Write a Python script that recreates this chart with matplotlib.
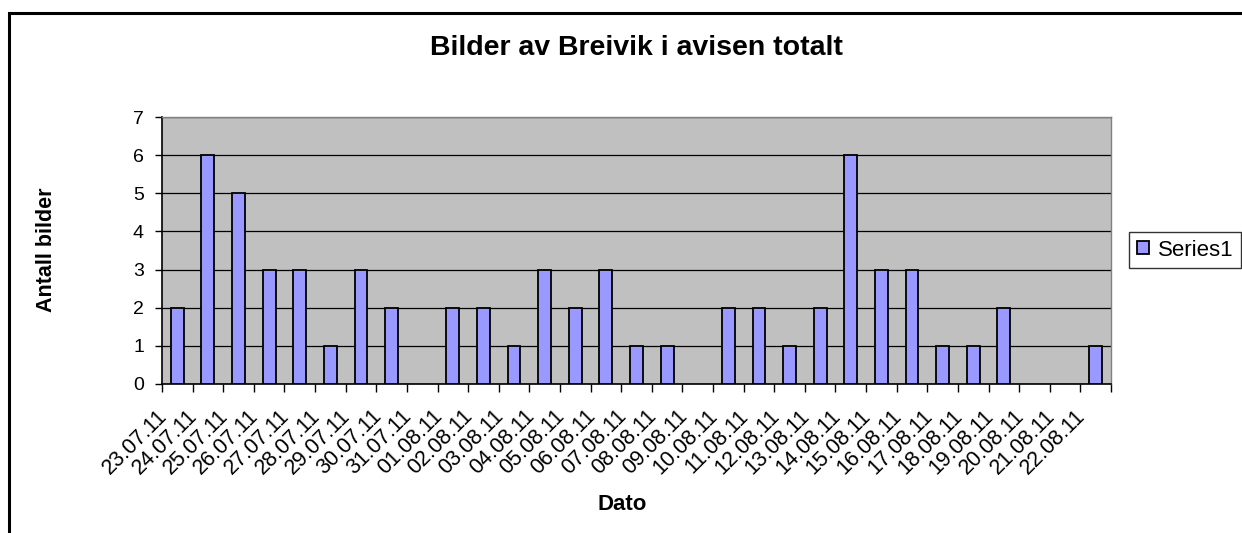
import matplotlib
matplotlib.use("Agg")
import matplotlib.pyplot as plt
from matplotlib.patches import Rectangle
import matplotlib.transforms as mtransforms
import numpy as np

dates = ["23.07.11", "24.07.11", "25.07.11", "26.07.11", "27.07.11", "28.07.11",
         "29.07.11", "30.07.11", "31.07.11", "01.08.11", "02.08.11", "03.08.11",
         "04.08.11", "05.08.11", "06.08.11", "07.08.11", "08.08.11", "09.08.11",
         "10.08.11", "11.08.11", "12.08.11", "13.08.11", "14.08.11", "15.08.11",
         "16.08.11", "17.08.11", "18.08.11", "19.08.11", "20.08.11", "21.08.11",
         "22.08.11"]
values = [2, 6, 5, 3, 3, 1, 3, 2, 0, 2, 2, 1, 3, 2, 3, 1, 1, 0,
          2, 2, 1, 2, 6, 3, 3, 1, 1, 2, 0, 0, 1]
series_name = "Series1"
title = "Bilder av Breivik i avisen totalt"
xlabel = "Dato"
ylabel = "Antall bilder"

plt.rcParams['font.family'] = ['Liberation Sans', 'DejaVu Sans']

W, H = 1242, 533
fig = plt.figure(figsize=(W / 100, H / 100), dpi=100)

# outer chart border
fig.patches.append(Rectangle((9 / W, -0.05), 1.2, 1 - 13 / H + 0.05,
                             transform=fig.transFigure, fill=False,
                             edgecolor='black', linewidth=2.2, zorder=0))

left, right, top, bottom = 162, 1111, 117, 384
ax = fig.add_axes([left / W, 1 - bottom / H, (right - left) / W, (bottom - top) / H])
ax.set_facecolor('#C0C0C0')

x = np.arange(len(dates))
bars = ax.bar(x, values, width=0.42, color='#9999FF', edgecolor='black',
              linewidth=1.3, zorder=3, label=series_name)
for b, v in zip(bars, values):
    if v == 0:
        b.set_visible(False)

ax.set_xlim(-0.5, len(dates) - 0.5)
ax.set_ylim(0, 7)
ax.set_yticks(range(0, 8))
ax.yaxis.grid(True, color='black', linewidth=0.9, zorder=1)
ax.set_axisbelow(True)

# category boundary ticks
ax.set_xticks(np.arange(-0.5, len(dates) + 0.5, 1.0))
ax.set_xticklabels([])
ax.tick_params(axis='x', direction='out', length=6, width=1, colors='black')
ax.tick_params(axis='y', direction='out', length=5, width=1, labelsize=14, pad=8)

for s in ['top', 'right']:
    ax.spines[s].set_color('#808080')
    ax.spines[s].set_linewidth(1.0)
for s in ['left', 'bottom']:
    ax.spines[s].set_color('black')
    ax.spines[s].set_linewidth(1.2)

# rotated date labels
offset = mtransforms.ScaledTranslation(-21 / 100, -22 / 100, fig.dpi_scale_trans)
for i, d in enumerate(dates):
    ax.text(i, 0, d, rotation=45, ha='right', va='top', rotation_mode='anchor',
            fontsize=15.5, transform=ax.get_xaxis_transform() + offset)

fig.text((left + right) / 2 / W, 1 - 48 / H, title, ha='center', va='center',
         fontsize=20.5, fontweight='bold')
fig.text(622 / W, 1 - 504 / H, xlabel, ha='center', va='center',
         fontsize=16, fontweight='bold')
fig.text(47 / W, 1 - 250 / H, ylabel, ha='center', va='center', rotation=90,
         fontsize=15.5, fontweight='bold')

leg = fig.legend(handles=[bars], labels=[series_name], loc='center left',
                 bbox_to_anchor=(1129 / W, 1 - 250 / H), frameon=True,
                 fancybox=False, fontsize=16, handlelength=0.55, handleheight=0.55,
                 handletextpad=0.4, borderpad=0.35, borderaxespad=0)
leg.get_frame().set_edgecolor('black')
leg.get_frame().set_linewidth(1.0)

fig.savefig('out.png', dpi=100)
